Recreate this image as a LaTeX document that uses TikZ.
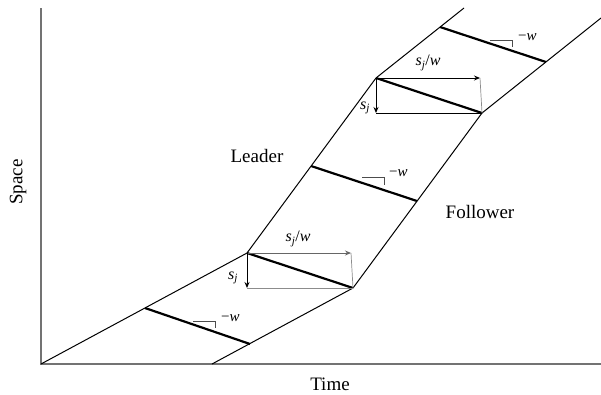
\documentclass[tikz,border=0pt]{standalone}
\usepackage{fontspec}
\setmainfont{Liberation Serif}
\usetikzlibrary{arrows.meta,calc}
\begin{document}
\begin{tikzpicture}[x=1pt,y=-1pt,
  axis/.style={draw=black!55,line width=1.6pt},
  traj/.style={draw=black,line width=1pt},
  wave/.style={draw=black,line width=2.2pt},
  shiftarrow/.style={draw=black,line width=0.9pt,-{Stealth[length=6pt,width=5pt]}},
  guide/.style={draw=black!45,line width=0.7pt},
  slopemark/.style={draw=black!70,line width=0.6pt},
  lab/.style={inner sep=0pt,font=\fontsize{19}{21}\selectfont},
  wlab/.style={inner sep=0pt,font=\fontsize{15}{17}\selectfont,anchor=west},
  slab/.style={inner sep=0pt,font=\fontsize{16}{18}\selectfont}]
\useasboundingbox (0,0) rectangle (601,394);
% axes
\coordinate (Ytop) at (41,8);
\coordinate (O) at (41,364);
\coordinate (Xend) at (601,364);
\draw[axis] (Ytop) -- (O) -- (Xend);
\node[lab] (time) at (330,384) {Time};
\node[lab,rotate=90] (space) at (18,182) {Space};
% leader
\coordinate (L1) at (247,253);
\coordinate (L2) at (376,78);
\coordinate (L3) at (464,8);
\draw[traj] (O) -- (L1) -- (L2) -- (L3);
% follower
\coordinate (F0) at (212,364);
\coordinate (F1) at (353,288);
\coordinate (F2) at (482,113);
\coordinate (F3) at (601,18);
\draw[traj] (F0) -- (F1) -- (F2) -- (F3);
\node[lab] (leader) at (257,156) {Leader};
\node[lab] (follower) at (480,212) {Follower};
% waves
\coordinate (A1) at (145,308); \coordinate (B1) at (250,344);
\coordinate (A2) at (311,166); \coordinate (B2) at (417,201);
\coordinate (A3) at (440,27);  \coordinate (B3) at (546,62);
\draw[wave] (A1) -- (B1);
\draw[wave] (A2) -- (B2);
\draw[wave] (A3) -- (B3);
\draw[wave] (L1) -- (F1);
\draw[wave] (L2) -- (F2);
% slope marks
\coordinate (m1a) at (193,321); \coordinate (m1b) at (215,321); \coordinate (m1c) at (215,328);
\coordinate (m2a) at (362,177); \coordinate (m2b) at (384,177); \coordinate (m2c) at (384,185);
\coordinate (m3a) at (490,40);  \coordinate (m3b) at (512,40);  \coordinate (m3c) at (512,47);
\draw[slopemark] (m1a) -- (m1b) -- (m1c);
\draw[slopemark] (m2a) -- (m2b) -- (m2c);
\draw[slopemark] (m3a) -- (m3b) -- (m3c);
\node[wlab] (w1) at (221,318) {−\textit{w}};
\node[wlab] (w2) at (389,173) {−\textit{w}};
\node[wlab] (w3) at (518,37) {−\textit{w}};
% lower shift box
\coordinate (P1) at (351,253);
\coordinate (Q1) at (247,288);
\draw[shiftarrow,draw=black!60] (L1) -- (P1);
\draw[guide] (P1) -- (F1);
\draw[guide] (Q1) -- (F1);
\draw[shiftarrow] (L1) -- (Q1);
\node[slab] (tl1) at (298,239) {\textit{s}\textsubscript{\textit{j}}/\textit{w}};
\node[slab] (vl1) at (233,278) {\textit{s}\textsubscript{\textit{j}}};
% upper shift box
\coordinate (P2) at (480,78);
\coordinate (Q2) at (376,113);
\draw[shiftarrow] (L2) -- (P2);
\draw[guide] (P2) -- (F2);
\draw[draw=black,line width=0.7pt] (Q2) -- (F2);
\draw[shiftarrow] (L2) -- (Q2);
\node[slab] (tl2) at (428,63) {\textit{s}\textsubscript{\textit{j}}/\textit{w}};
\node[slab] (vl2) at (365,108) {\textit{s}\textsubscript{\textit{j}}};
\end{tikzpicture}
\end{document}
